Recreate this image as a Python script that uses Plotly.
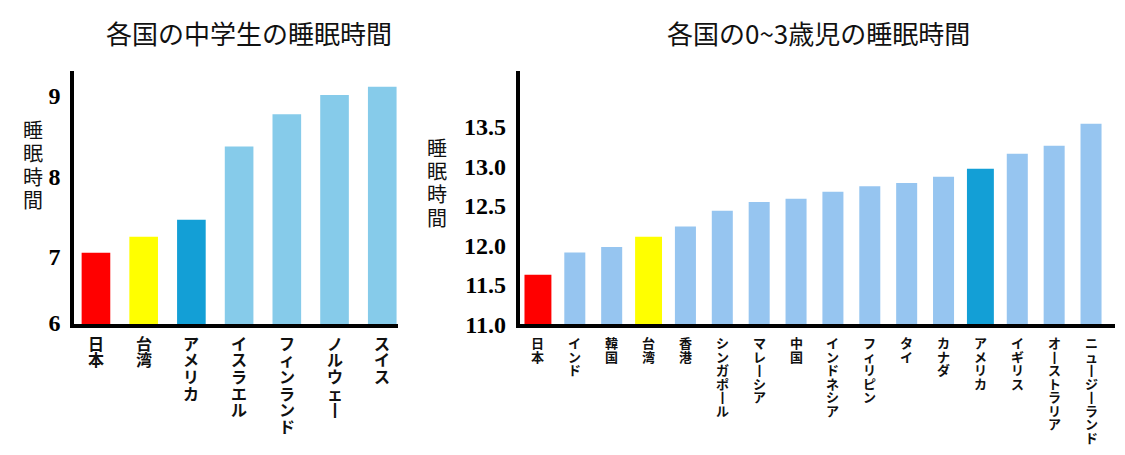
import plotly.graph_objects as go

W, H = 1125, 455

# ---------------- data ----------------
left_title = "各国の中学生の睡眠時間"
left_categories = ["日本", "台湾", "アメリカ", "イスラエル", "フィンランド", "ノルウェー", "スイス"]
left_values = [7.05, 7.25, 7.46, 8.37, 8.77, 9.01, 9.11]
left_tick_vals = [6.18, 7, 8, 9]
left_tick_text = ["6", "7", "8", "9"]

right_title = "各国の0~3歳児の睡眠時間"
right_categories = ["日本", "インド", "韓国", "台湾", "香港", "シンガポール", "マレーシア", "中国",
                    "インドネシア", "フィリピン", "タイ", "カナダ", "アメリカ", "イギリス",
                    "オーストラリア", "ニュージーランド"]
right_values = [11.63, 11.91, 11.98, 12.11, 12.24, 12.44, 12.55, 12.59,
                12.68, 12.75, 12.79, 12.87, 12.97, 13.16, 13.26, 13.54]
right_tick_vals = [11.0, 11.5, 12.0, 12.5, 13.0, 13.5]
right_tick_text = ["11.0", "11.5", "12.0", "12.5", "13.0", "13.5"]

y_title = "睡眠時間"

# ---------------- styles ----------------
RED, YEL, DEEP = "#FF0000", "#FFFF00", "#139FD6"
LIGHT_L, LIGHT_R = "#86CBEA", "#96C5F0"
highlight = {"日本": RED, "台湾": YEL, "アメリカ": DEEP}

left_colors = [highlight.get(c, LIGHT_L) for c in left_categories]
right_colors = [highlight.get(c, LIGHT_R) for c in right_categories]
right_widths = [0.73 if c in highlight else 0.57 for c in right_categories]

CJK = "Noto Sans CJK JP"
SERIF = "Liberation Serif"


def px_x(p):
    return p / W


def px_y(p):
    # vertical pixel (from top) -> paper fraction, with small render calibration
    return 1 - ((p - 3) / 0.961) / H


PLOT_TOP, PLOT_BOT = 73, 324
L_LEFT, L_RIGHT = 74, 398
R_LEFT, R_RIGHT = 519.5, 1115

fig = go.Figure()
fig.add_trace(go.Bar(x=list(range(len(left_categories))), y=left_values,
                     marker=dict(color=left_colors, line=dict(width=0)),
                     width=0.6, xaxis="x", yaxis="y", hoverinfo="skip",
                     customdata=left_categories))
fig.add_trace(go.Bar(x=list(range(len(right_categories))), y=right_values,
                     marker=dict(color=right_colors, line=dict(width=0)),
                     width=right_widths, xaxis="x2", yaxis="y2", hoverinfo="skip",
                     customdata=right_categories))

yaxis_common = dict(showgrid=False, zeroline=False, showline=True, linecolor="black",
                    linewidth=3.5, ticks="", ticklabelstandoff=5,
                    tickfont=dict(family=SERIF, size=24, color="black", weight="bold"))
xaxis_common = dict(showgrid=False, zeroline=False, showline=True, linecolor="black",
                    linewidth=4, ticks="", showticklabels=False)

fig.update_layout(
    width=W, height=H, margin=dict(l=0, r=0, t=0, b=0),
    paper_bgcolor="white", plot_bgcolor="white", showlegend=False,
    xaxis=dict(domain=[px_x(L_LEFT), px_x(L_RIGHT)], range=[-0.46, 6.33], **xaxis_common),
    yaxis=dict(domain=[px_y(PLOT_BOT), px_y(PLOT_TOP)], range=[6.159, 9.31],
               tickvals=left_tick_vals, ticktext=left_tick_text, **yaxis_common),
    xaxis2=dict(domain=[px_x(R_LEFT), px_x(R_RIGHT)], range=[-0.5, 15.65], anchor="y2",
                **xaxis_common),
    yaxis2=dict(domain=[px_y(PLOT_BOT), px_y(PLOT_TOP)], range=[11.0, 14.21], anchor="x2",
                tickvals=right_tick_vals, ticktext=right_tick_text, **yaxis_common),
)

ann = []
for txt, cx in [(left_title, 249), (right_title, 818)]:
    ann.append(dict(text=txt, x=px_x(cx), y=px_y(35), xref="paper", yref="paper",
                    showarrow=False, xanchor="center", yanchor="middle",
                    font=dict(family=CJK, size=26, color="#111111")))

# vertical y-axis titles
for cx, cy0 in [(33, 131), (436.7, 148.5)]:
    for j, ch in enumerate(y_title):
        ann.append(dict(text=ch, x=px_x(cx), y=px_y(cy0 + j * 23.2), xref="paper", yref="paper",
                        showarrow=False, xanchor="center", yanchor="middle",
                        font=dict(family=CJK, size=20, color="#111111")))


def vert(ch):
    return "丨" if ch == "ー" else ch


# vertical category labels
for cats, xr, first, pitch, size in [(left_categories, "x", 342, 16.5, 16),
                                      (right_categories, "x2", 342, 13.4, 13)]:
    for i, cat in enumerate(cats):
        for j, ch in enumerate(cat):
            ann.append(dict(text=vert(ch), x=i, y=px_y(first + j * pitch), xref=xr, yref="paper",
                            showarrow=False, xanchor="center", yanchor="middle",
                            font=dict(family=CJK, size=size, color="#111111", weight="bold")))

fig.update_layout(annotations=ann)
fig.write_html("out.html")
